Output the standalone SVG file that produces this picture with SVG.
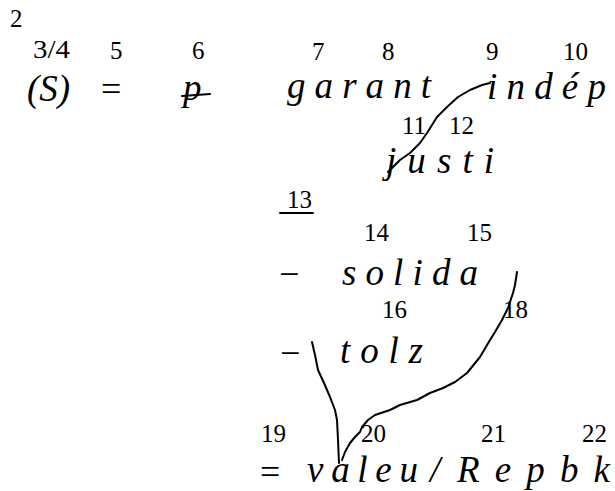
<svg xmlns="http://www.w3.org/2000/svg" width="615" height="491" viewBox="0 0 615 491">
<style>
text{font-family:'Liberation Serif','DejaVu Serif',serif;fill:#000}
.n{font-size:25px}
.w{font-size:37px;font-style:italic}
.o{font-size:36px}
.s{fill:none;stroke:#000;stroke-width:2;stroke-linecap:round;stroke-linejoin:round}
</style>
<rect width="615" height="491" fill="#fff"/>
<g id="numbers">
<text class="n" x="10" y="27">2</text>
<text class="n" x="33" y="58" textLength="37" lengthAdjust="spacingAndGlyphs">3/4</text>
<text class="n" x="110" y="59">5</text>
<text class="n" x="192" y="59">6</text>
<text class="n" x="312" y="60">7</text>
<text class="n" x="382" y="60">8</text>
<text class="n" x="486" y="60">9</text>
<text class="n" x="563" y="60">10</text>
<text class="n" x="402" y="134">11</text>
<text class="n" x="449" y="134">12</text>
<text class="n" x="287" y="208">13</text>
<text class="n" x="364" y="241">14</text>
<text class="n" x="467" y="241">15</text>
<text class="n" x="382" y="318">16</text>
<text class="n" x="503" y="318">18</text>
<text class="n" x="261" y="442">19</text>
<text class="n" x="361" y="442">20</text>
<text class="n" x="481" y="442">21</text>
<text class="n" x="582" y="442">22</text>
</g>
<g id="row1">
<text class="w" x="27" y="101">(S)</text>
<text class="o" x="101" y="101">=</text>
<text class="w" x="183" y="100">p</text>
<text class="w" x="287" y="98" textLength="144" lengthAdjust="spacing">g a r a n t</text>
<text class="w" x="487" y="99" textLength="119" lengthAdjust="spacing">i n d é p</text>
</g>
<g id="row2">
<text class="w" x="386" y="173" textLength="108" lengthAdjust="spacing">j u s t i</text>
</g>
<g id="row3">
<text class="o" x="279" y="286">−</text>
<text class="w" x="342" y="285" textLength="136" lengthAdjust="spacing">s o l i d a</text>
</g>
<g id="row4">
<text class="o" x="280" y="365">−</text>
<text class="w" x="340" y="363" textLength="83" lengthAdjust="spacing">t o l z</text>
</g>
<g id="row5">
<text class="o" x="260" y="484">=</text>
<text class="w" x="307" y="482" textLength="111" lengthAdjust="spacing">v a l e u</text>
<text class="w" x="430" y="482">/</text>
<text class="w" x="457" y="482" textLength="153" lengthAdjust="spacing">R e p b k</text>
</g>
<g id="marks">
<line class="s" x1="280" y1="213" x2="313" y2="213"/>
<path class="s" d="M182,96 L210,94"/>
<path class="s" d="M388,172 L400,160 L410,153 L420,143 L427,133 L437,117 L447,107 L458,97 L470,90 L482,85 L490,83"/>
<path class="s" d="M517,272 L515,285 L513,293 L508,308 L502,320 L495,332 L490,340 L480,357 L467,373 L455,382 L443,388 L430,393 L417,400 L400,405 L390,410 L375,415 L368,420 L362,427 L360,432 L355,437 L350,443 L345,452 L342,460"/>
<path class="s" d="M312,342 L315,355 L318,370 L324,383 L330,397 L335,410 L337,420 L338,440 L339,463"/>
</g>
</svg>
